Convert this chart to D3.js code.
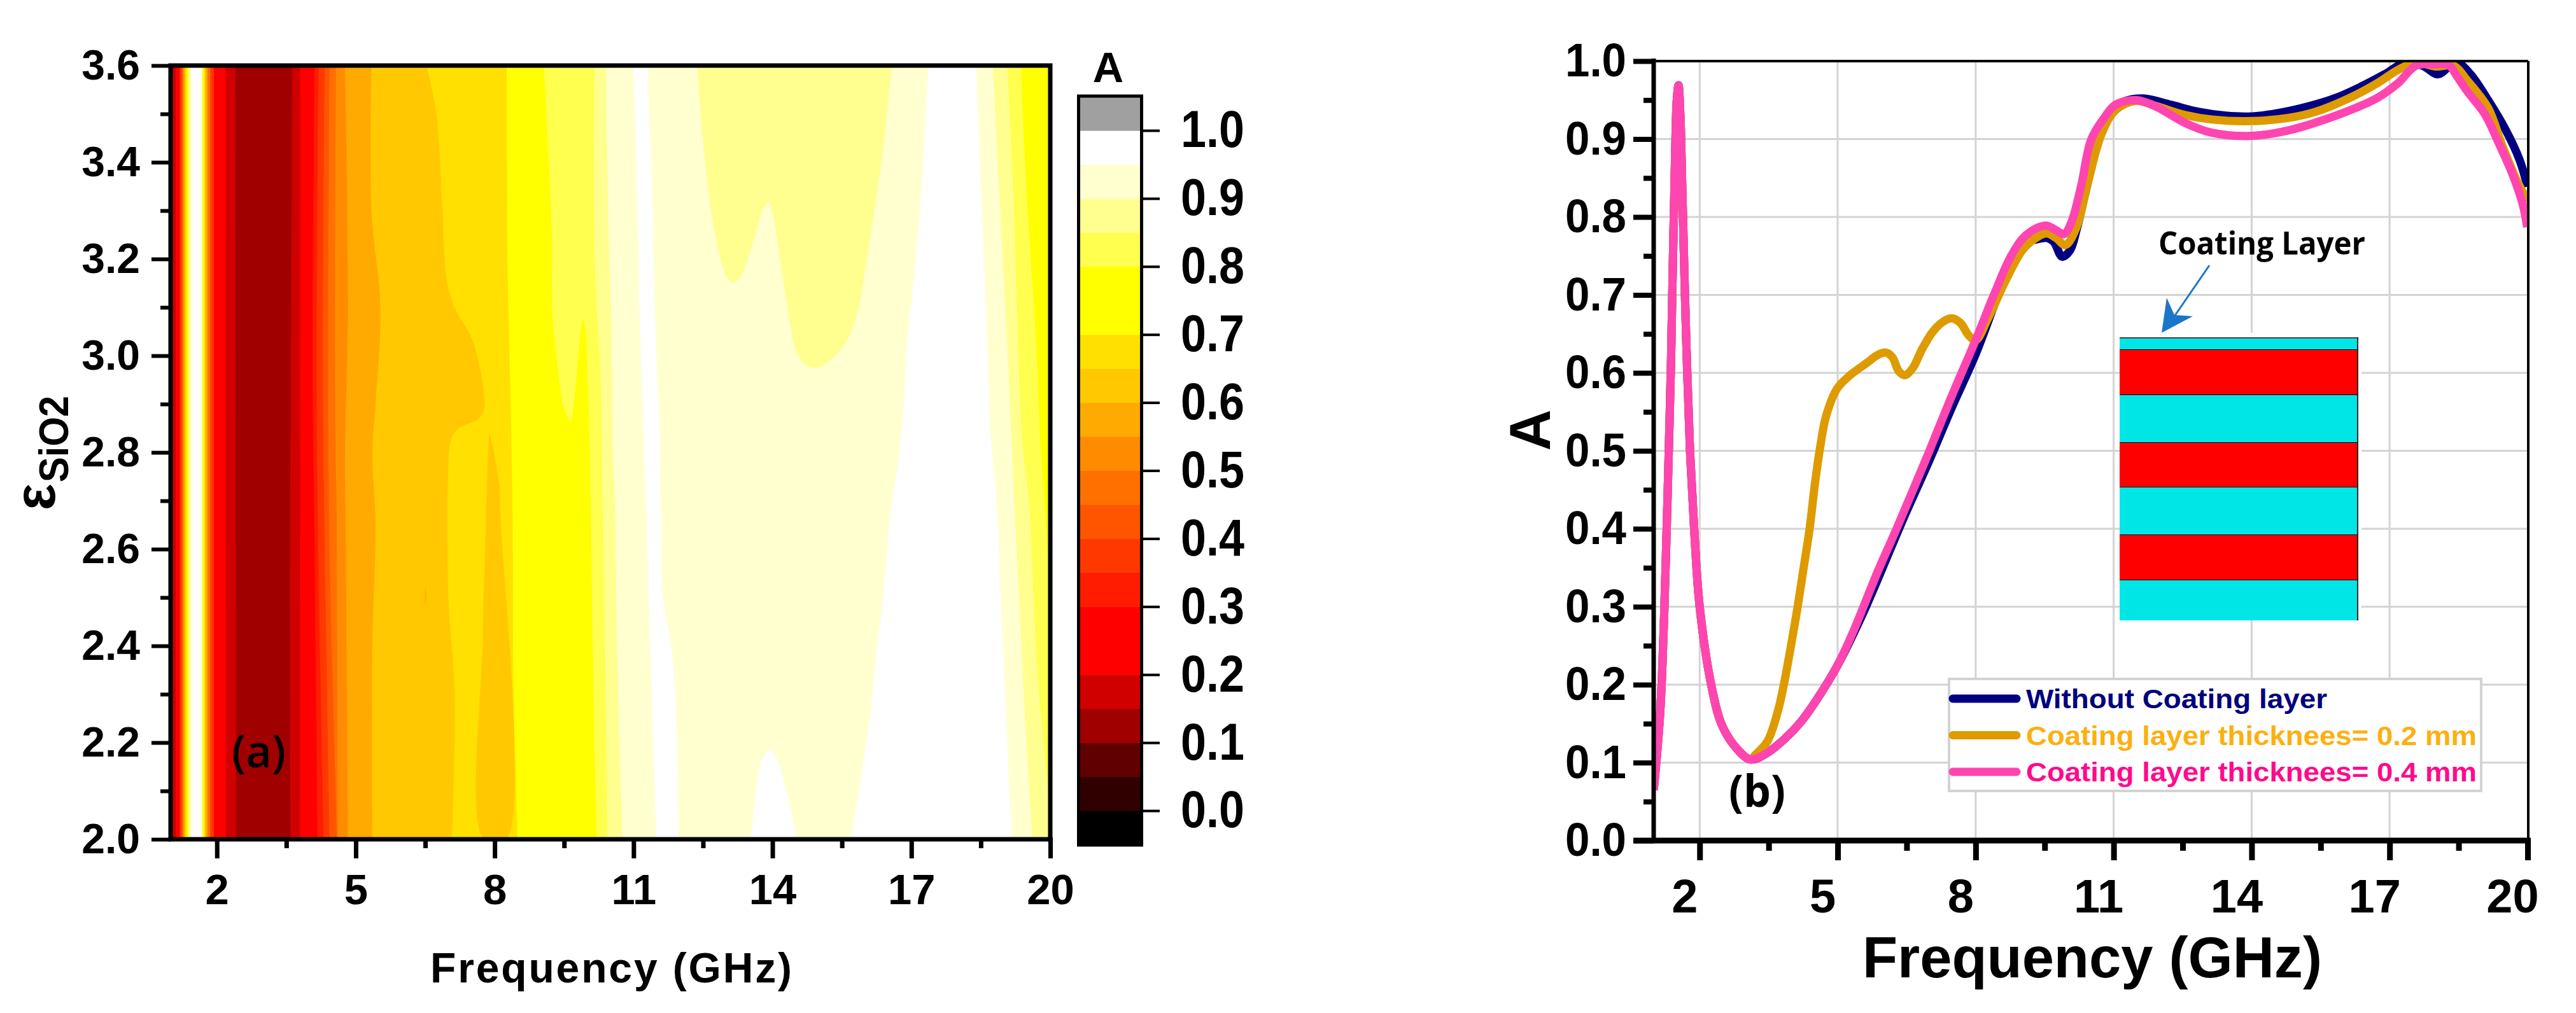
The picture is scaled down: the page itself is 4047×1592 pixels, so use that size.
<!DOCTYPE html>
<html><head><meta charset="utf-8">
<script src="https://cdn.jsdelivr.net/npm/d3@7"></script>
<style>html,body{margin:0;padding:0;background:#fff;overflow:hidden}svg{display:block}text{font-family:"Liberation Sans",Arial,sans-serif;font-weight:700;fill:#000}</style>
</head><body><svg id="c" width="4047" height="1592"></svg>
<script>
// ---------- Panel (a) data: contour boundaries [freq, eps]
const colourLevels = ["#000000","#300000","#600000","#A00000","#D00000","#FF0000","#FF0000","#FF1C00","#FF3800","#FF5500","#FF7000","#FF8C00","#FFAA00","#FFC800","#FFE000","#FFFF00","#FFFF00","#FFFF50","#FFFF90","#FFFFD0","#FFFFFF","#A0A0A0"];
const colourTicks = [0,0.1,0.2,0.3,0.4,0.5,0.6,0.7,0.8,0.9,1.0];
const freqTicksMajor = [2,5,8,11,14,17,20];
const freqTicksMinor = [3.5,6.5,9.5,12.5,15.5,18.5];
const epsTicksMajor = [2.0,2.2,2.4,2.6,2.8,3.0,3.2,3.4,3.6];
const epsTicksMinor = [2.1,2.3,2.5,2.7,2.9,3.1,3.3,3.5];
const contourEdges = [
 ["#FF0000",[[1.112,3.6],[1.112,2.0]]],
 ["#FF3800",[[1.20,3.6],[1.20,2.0]]],
 ["#FF7000",[[1.244,3.6],[1.244,2.0]]],
 ["#FFAA00",[[1.279,3.6],[1.279,2.0]]],
 ["#FFE000",[[1.314,3.6],[1.314,2.0]]],
 ["#FFFF00",[[1.349,3.6],[1.349,2.0]]],
 ["#FFFF90",[[1.384,3.6],[1.384,2.0]]],
 ["#FFFFFF",[[1.437,3.6],[1.437,2.0]]],
 ["#FFFF90",[[1.665,3.6],[1.665,2.0]]],
 ["#FFFF00",[[1.691,3.6],[1.691,2.0]]],
 ["#FFE000",[[1.726,3.6],[1.726,2.0]]],
 ["#FFAA00",[[1.752,3.6],[1.752,2.0]]],
 ["#FF7000",[[1.796,3.6],[1.796,2.0]]],
 ["#FF3800",[[1.858,3.6],[1.858,2.0]]],
 ["#FF0000",[[1.936,3.6],[1.936,2.0]]],
 ["#D00000",[[2.19,3.6],[2.19,2.0]]],
 ["#A00000",[[2.40,3.6],[2.41,2.0]]],
 ["#D00000",[[3.63,3.6],[3.60,3.0],[3.58,2.6],[3.59,2.0]]],
 ["#FF0000",[[3.80,3.6],[3.79,2.0]]],
 ["#FF1C00",[[4.11,3.6],[4.067,3.0],[4.11,2.6],[4.172,2.0]]],
 ["#FF3800",[[4.198,3.6],[4.155,3.0],[4.19,2.6],[4.304,2.0]]],
 ["#FF5500",[[4.33,3.6],[4.286,3.0],[4.33,2.6],[4.435,2.0]]],
 ["#FF7000",[[4.435,3.6],[4.40,3.0],[4.435,2.6],[4.593,2.0]]],
 ["#FF8C00",[[4.575,3.6],[4.549,3.0],[4.593,2.6],[4.61,2.0]]],
 ["#FFAA00",[[4.768,3.6],[4.83,3.1],[4.768,2.8],[4.786,2.6],[4.83,2.0]]],
 ["#FFC800",[[5.338,3.6],[5.338,3.3],[5.531,3.1],[5.426,2.9],[5.356,2.8],[5.426,2.65],[5.356,2.4],[5.356,2.0]]],
 ["#FFE000",[[6.522,3.6],[6.741,3.5],[6.872,3.3],[6.96,3.16],[7.135,3.10],[7.53,3.03],[7.749,2.935],[7.767,2.89],[7.661,2.87],[7.223,2.85],[7.065,2.83],[6.986,2.73],[6.978,2.683],[7.004,2.49],[7.135,2.30],[7.074,2.0]]],
];
const contourIslandsLow = [
 ["#FFB400",[[6.504,2.525],[6.53,2.504],[6.504,2.485],[6.48,2.504]]],
 ["#FFC800",[[7.88,2.84],[7.82,2.70],[7.82,2.68],[7.749,2.43],[7.767,2.0],[8.249,2.0],[8.118,2.68],[8.10,2.73],[7.968,2.81]]],
];
const contourEdgesHigh = [
 ["#FFFF00",[[8.258,3.6],[8.275,3.2],[8.345,2.9],[8.389,2.66],[8.407,2.3],[8.494,2.0]]],
 ["#FFFF50",[[9.064,3.6],[9.24,3.24],[9.24,3.1],[9.345,2.99],[9.503,2.89],[9.634,2.866],[9.766,2.955],[9.854,3.05],[9.906,3.076],[9.959,3.05],[10.029,2.89],[10.073,2.7],[10.134,2.3],[10.204,2.0]]],
 ["#FFFF90",[[10.16,3.6],[10.16,3.2],[10.29,2.95],[10.336,2.68],[10.44,2.0]]],
 ["#FFFFD0",[[10.405,3.6],[10.45,3.3],[10.51,3.1],[10.555,2.8],[10.6,2.68],[10.643,2.4],[10.757,2.0]]],
 ["#FFFFFF",[[10.993,3.6],[11.077,3.34],[11.133,3.08],[11.217,2.83],[11.27,2.68],[11.37,2.365],[11.49,2.0]]],
 ["#FFFFD0",[[11.30,3.6],[11.40,3.34],[11.463,3.08],[11.57,2.83],[11.59,2.68],[11.646,2.488],[11.80,2.411],[11.89,2.32],[11.935,2.23],[11.97,2.0]]],
];
const lobeIsland = ["#FFFF90",[[12.375,3.6],[12.48,3.465],[12.62,3.337],[12.76,3.25],[12.935,3.18],[13.076,3.155],[13.18,3.152],[13.32,3.165],[13.50,3.21],[13.64,3.254],[13.78,3.30],[13.92,3.318],[13.99,3.30],[14.13,3.22],[14.27,3.13],[14.41,3.05],[14.51,3.01],[14.72,2.98],[14.97,2.975],[15.28,2.993],[15.60,3.03],[15.85,3.095],[15.99,3.17],[16.2,3.30],[16.37,3.414],[16.48,3.51],[16.58,3.6]]];
const contourEdgesRight = [
 ["#FFFFFF",[[17.37,3.6],[17.21,3.337],[17.04,3.146],[16.9,3.02],[16.83,2.89],[16.69,2.763],[16.557,2.683],[16.47,2.59],[16.34,2.456],[16.25,2.39],[16.13,2.275],[16.04,2.207],[15.91,2.126],[15.79,2.058],[15.68,2.0]]],
];
const peakIsland = ["#FFFFFF",[[13.53,2.0],[13.61,2.07],[13.70,2.139],[13.795,2.171],[13.95,2.184],[14.07,2.171],[14.225,2.13],[14.38,2.067],[14.54,2.0]]];
const contourEdgesEnd = [
 ["#FFFFD0",[[18.40,3.6],[18.51,3.337],[18.62,3.08],[18.72,2.83],[18.85,2.683],[18.95,2.456],[19.04,2.275],[19.105,2.126],[19.18,2.0]]],
 ["#FFFF90",[[18.76,3.6],[18.9,3.337],[19.07,3.02],[19.23,2.683],[19.35,2.456],[19.44,2.275],[19.615,2.0]]],
 ["#FFFF50",[[19.07,3.6],[19.2,3.337],[19.28,3.1],[19.39,2.83],[19.55,2.683],[19.66,2.456],[19.78,2.275],[20,2.06]]],
 ["#FFFF00",[[19.37,3.6],[19.49,3.337],[19.7,3.02],[19.8,2.8],[19.885,2.683],[20,2.5]]],
];
// ---------- Panel (b) data: [frequency GHz, A]
const sharedStart = [[1.0,0.065],[1.018,0.075],[1.143,0.166],[1.212,0.262],[1.263,0.359],[1.323,0.488],[1.378,0.618],[1.419,0.747],[1.466,0.876],[1.50,0.947],[1.54,0.969],[1.58,0.930],[1.62,0.840],[1.68,0.700],[1.73,0.600],[1.79,0.500],[1.88,0.400],[2.0,0.300],[2.25,0.200],[2.47,0.150],[2.75,0.122],[3.10,0.104]];
const lowerBranch = [[3.426,0.111],[3.84,0.130],[4.21,0.153],[4.58,0.184],[4.99,0.224]];
const withoutCoating = sharedStart.concat(lowerBranch,[[5.5,0.285],[5.87,0.335],[6.42,0.412],[6.98,0.486],[7.485,0.556],[8.0,0.624],[8.41,0.688],[8.78,0.745],[9.10,0.768],[9.30,0.771],[9.56,0.773],[9.70,0.768],[9.88,0.749],[10.05,0.757],[10.2,0.785],[10.4,0.835],[10.74,0.915],[11.04,0.941],[11.27,0.949],[11.64,0.952],[12.24,0.944],[12.84,0.935],[13.44,0.930],[14.0,0.929],[14.64,0.934],[15.24,0.942],[15.84,0.953],[16.37,0.967],[16.89,0.983],[17.34,0.998],[17.72,0.994],[18.05,0.983],[18.31,0.994],[18.47,0.998],[18.76,0.983],[19.14,0.950],[19.52,0.912],[19.82,0.874],[20.0,0.839]]);
const coating02 = sharedStart.concat([[3.195,0.109],[3.47,0.127],[3.70,0.166],[3.83,0.200],[4.0,0.255],[4.13,0.300],[4.26,0.350],[4.39,0.400],[4.50,0.455],[4.62,0.505],[4.75,0.545],[4.99,0.580],[5.27,0.597],[5.64,0.613],[5.87,0.623],[6.05,0.626],[6.19,0.620],[6.33,0.602],[6.46,0.597],[6.63,0.606],[6.84,0.631],[7.07,0.653],[7.30,0.666],[7.485,0.670],[7.67,0.664],[7.85,0.648],[8.0,0.642],[8.27,0.670],[8.64,0.717],[9.01,0.757],[9.28,0.772],[9.54,0.779],[9.75,0.773],[9.95,0.764],[10.18,0.785],[10.44,0.844],[10.74,0.907],[11.04,0.937],[11.49,0.949],[11.94,0.942],[12.54,0.931],[13.14,0.925],[14.0,0.923],[14.79,0.927],[15.39,0.935],[16.14,0.953],[16.74,0.972],[17.19,0.989],[17.57,0.998],[18.01,0.993],[18.39,0.994],[18.69,0.975],[19.14,0.940],[19.44,0.893],[19.74,0.850],[20.0,0.820]]);
const coating04 = sharedStart.concat(lowerBranch,[[5.317,0.265],[5.87,0.345],[6.28,0.400],[6.98,0.498],[7.485,0.571],[8.0,0.642],[8.41,0.702],[8.78,0.751],[9.10,0.777],[9.52,0.789],[9.75,0.783],[9.92,0.778],[10.08,0.793],[10.29,0.839],[10.51,0.899],[10.78,0.926],[11.04,0.944],[11.49,0.950],[11.94,0.941],[12.54,0.921],[13.14,0.908],[14.0,0.904],[14.79,0.911],[15.39,0.921],[16.14,0.937],[16.74,0.953],[17.19,0.972],[17.57,0.994],[18.01,0.996],[18.28,0.995],[18.47,0.980],[18.69,0.961],[19.07,0.932],[19.37,0.895],[19.67,0.855],[19.89,0.817],[19.99,0.787]]);
const seriesNames = ["Without Coating layer","Coating layer thicknees= 0.2 mm","Coating layer thicknees= 0.4 mm"];
const lineColours = ["#000080","#DE9B00","#FF45B0"];
const textColours = ["#000080","#FCB010","#FF0A8C"];
const absTicksMajor = [0,0.1,0.2,0.3,0.4,0.5,0.6,0.7,0.8,0.9,1.0];
const absTicksMinor = [0.05,0.15,0.25,0.35,0.45,0.55,0.65,0.75,0.85,0.95];
const gridFreq = [2,5,8,11,14,17];
const gridAbs = [0.1,0.2,0.3,0.4,0.5,0.6,0.7,0.8,0.9];
const insetLayers = [["#00E6E6",19],["#FF0000",71],["#00E6E6",75],["#FF0000",70],["#00E6E6",75],["#FF0000",71],["#00E6E6",63]];

const svg = d3.select("#c");
svg.append("rect").attr("width",4047).attr("height",1592).attr("fill","#fff");
const fit=(sel,w)=>sel.attr("textLength",w).attr("lengthAdjust","spacingAndGlyphs");
const defs=svg.append("defs");

// ---------- Panel (a)
const xA=d3.scaleLinear().domain([1,20]).range([268,1650]);
const yA=d3.scaleLinear().domain([2,3.6]).range([1319,103]);
defs.append("clipPath").attr("id","clipA").append("rect").attr("x",268).attr("y",103).attr("width",1382).attr("height",1216);
const gA=svg.append("g").attr("clip-path","url(#clipA)");
gA.append("rect").attr("x",xA(1)).attr("y",yA(3.6)).attr("width",xA(20)-xA(1)).attr("height",yA(2)-yA(3.6)).attr("fill","#C80000");
const smooth=d3.line().x(d=>xA(d[0])).y(d=>yA(d[1])).curve(d3.curveCatmullRom.alpha(0.5));
function edge([col,pts]){
  const a=pts[0],b=pts[pts.length-1];
  gA.append("path").attr("fill",col).attr("d",smooth(pts)+"L"+xA(21)+","+yA(b[1])+"L"+xA(21)+","+yA(a[1])+"Z");
}
function island([col,pts]){ gA.append("path").attr("fill",col).attr("d",smooth(pts)+"Z"); }
contourEdges.forEach(edge);
contourIslandsLow.forEach(island);
contourEdgesHigh.forEach(edge);
island(lobeIsland);
contourEdgesRight.forEach(edge);
island(peakIsland);
contourEdgesEnd.forEach(edge);

function tickStyle(g,w){ g.select(".domain").remove(); g.selectAll(".tick line").attr("stroke","#000").attr("stroke-width",w); }
function axis(gen,tr,w,fs,extra){
  const g=svg.append("g").attr("transform",tr).call(gen);
  tickStyle(g,w);
  g.selectAll("text").attr("font-size",fs).attr("font-family",null).attr("fill","#000");
  if(extra) extra(g);
  return g;
}
const fmt1=d3.format(".1f");
const frame=(x,y,w,h,c="#000",fill="none",sw=7)=>svg.append("rect").attr("x",x).attr("y",y).attr("width",w).attr("height",h).attr("fill",fill).attr("stroke",c).attr("stroke-width",sw);
axis(d3.axisBottom(xA).tickValues(freqTicksMinor).tickSize(17).tickSizeOuter(0).tickFormat(""),"translate(0,1316)",7,0);
axis(d3.axisBottom(xA).tickValues(freqTicksMajor).tickSize(33).tickSizeOuter(0).tickPadding(20),"translate(0,1316)",7,67,g=>{
  g.selectAll("text").attr("dy",null).attr("y",105);
});
axis(d3.axisLeft(yA).tickValues(epsTicksMinor).tickSize(16).tickFormat(""),"translate(268,0)",6,0);
axis(d3.axisLeft(yA).tickValues(epsTicksMajor).tickSize(30).tickPadding(18).tickFormat(fmt1),"translate(268,0)",6,66);
frame(268,103,1382,1216);
svg.append("text").attr("x",676).attr("y",1544).attr("font-size",66).attr("textLength",568).attr("lengthAdjust","spacing").text("Frequency (GHz)");
fit(svg.append("text").attr("transform","translate(86,802) rotate(-90)").attr("font-size",90).text("ε"),42);
fit(svg.append("text").attr("transform","translate(107,758) rotate(-90)").attr("font-size",64).text("SiO2"),136);
fit(svg.append("text").attr("x",364).attr("y",1206).attr("font-size",70).attr("style","font-family:'Open Sans';font-weight:600").text("(a)"),85);

// ---------- Colour bar
const yC=d3.scaleLinear().domain([0,1]).range([1274,205]);
const bandStart=d3.range(colourLevels.length).map(i=>-0.05+i*0.05);
svg.append("g").selectAll("rect").data(colourLevels).join("rect")
 .attr("x",1697).attr("width",94).attr("y",(d,i)=>yC(bandStart[i]+0.05)).attr("height",(d,i)=>yC(bandStart[i])-yC(bandStart[i]+0.05)+0.6).attr("fill",d=>d);
frame(1694.5,151,99,1177,"#000","none",5);
const cAxis=axis(d3.axisRight(yC).tickValues(colourTicks).tickSize(26).tickPadding(33).tickFormat(fmt1),"translate(1796,0)",4,81);
fit(cAxis.selectAll("text"),100);
svg.append("text").attr("x",1741).attr("y",129).attr("text-anchor","middle").attr("font-size",67).text("A");

// ---------- Panel (b)
const xB=d3.scaleLinear().domain([1,20]).range([2598,3971]);
const yB=d3.scaleLinear().domain([0,1]).range([1321,96]);
defs.append("clipPath").attr("id","clipB").append("rect").attr("x",2598).attr("y",96).attr("width",1373).attr("height",1225);
const gGrid=svg.append("g").attr("stroke","#D3D3D3").attr("stroke-width",3);
gGrid.selectAll(".v").data(gridFreq).join("line").attr("x1",d=>xB(d)).attr("x2",d=>xB(d)).attr("y1",yB(1)).attr("y2",yB(0));
gGrid.selectAll(".h").data(gridAbs).join("line").attr("y1",d=>yB(d)).attr("y2",d=>yB(d)).attr("x1",xB(1)).attr("x2",xB(20));
// inset schematic
svg.append("rect").attr("x",3330).attr("y",523).attr("width",380).attr("height",452).attr("fill","#fff");
const layerEnds=d3.cumsum(insetLayers.map(d=>d[1]));
const yI=d3.scaleLinear().domain([0,layerEnds[layerEnds.length-1]]).range([531,975]);
const gI=svg.append("g");
insetLayers.forEach((l,i)=>{
  const t=yI(i?layerEnds[i-1]:0), b=yI(layerEnds[i]);
  gI.append("rect").attr("x",3330).attr("y",t).attr("width",374).attr("height",b-t).attr("fill",l[0]);
  if(i<insetLayers.length-1) gI.append("line").attr("x1",3330).attr("x2",3704).attr("y1",b).attr("y2",b).attr("stroke","#000").attr("stroke-width",2);
});
gI.append("line").attr("x1",3330).attr("x2",3705).attr("y1",531).attr("y2",531).attr("stroke","#444").attr("stroke-width",2);
gI.append("line").attr("x1",3704).attr("x2",3704).attr("y1",530).attr("y2",975).attr("stroke","#222").attr("stroke-width",2);
// arrow
svg.append("line").attr("x1",3471).attr("y1",417).attr("x2",3414).attr("y2",500).attr("stroke","#1B75C9").attr("stroke-width",3);
svg.append("polygon").attr("points","3396,523 3404,468 3416,495 3445,497").attr("fill","#1B75C9");
fit(svg.append("text").attr("x",3391).attr("y",400).attr("font-size",50).attr("style","font-family:'Open Sans';font-weight:700").text("Coating Layer"),325);
// curves
const lineB=d3.line().x(d=>xB(d[0])).y(d=>yB(d[1])).curve(d3.curveCatmullRom.alpha(0.5));
svg.append("g").attr("clip-path","url(#clipB)").selectAll("path").data([withoutCoating,coating02,coating04]).join("path")
 .attr("d",lineB).attr("fill","none").attr("stroke",(d,i)=>lineColours[i]).attr("stroke-width",13).attr("stroke-linejoin","round");
// frame & axes
svg.append("line").attr("x1",2598).attr("x2",3972).attr("y1",96).attr("y2",96).attr("stroke","#000").attr("stroke-width",4);
svg.append("line").attr("x1",3972).attr("x2",3972).attr("y1",96).attr("y2",1321).attr("stroke","#000").attr("stroke-width",4);
svg.append("line").attr("x1",2566).attr("x2",3976).attr("y1",1321).attr("y2",1321).attr("stroke","#000").attr("stroke-width",9);
svg.append("line").attr("x1",2598).attr("x2",2598).attr("y1",92).attr("y2",1325).attr("stroke","#000").attr("stroke-width",7);
axis(d3.axisBottom(xB).tickValues(freqTicksMinor).tickSize(16).tickFormat(""),"translate(0,1321)",9,0);
axis(d3.axisBottom(xB).tickValues(freqTicksMajor).tickSize(31).tickSizeOuter(0),"translate(0,1321)",9,74,g=>{
  g.selectAll("text").attr("dy",null).attr("y",113).attr("dx",-24);
});
axis(d3.axisLeft(yB).tickValues(absTicksMinor).tickSize(16).tickFormat(""),"translate(2598,0)",8,0);
const yAxisB=axis(d3.axisLeft(yB).tickValues(absTicksMajor).tickSize(32).tickPadding(11).tickFormat(fmt1),"translate(2598,0)",8,74);
fit(yAxisB.selectAll("text"),96);
fit(svg.append("text").attr("x",2926).attr("y",1536).attr("font-size",90).text("Frequency (GHz)"),722);
svg.append("text").attr("transform","translate(2435,676) rotate(-90)").attr("text-anchor","middle").attr("font-size",90).text("A");
fit(svg.append("text").attr("x",2716).attr("y",1268).attr("font-size",70).attr("style","font-family:'Open Sans';font-weight:700").text("(b)"),89);
// legend
svg.append("rect").attr("x",3062).attr("y",1067).attr("width",836).attr("height",176).attr("fill","#fff").attr("stroke","#D3D3D3").attr("stroke-width",4);
const legendY=d3.scalePoint().domain(seriesNames).range([1098,1213]);
const legendWidths=[473,708,708];
const lg=svg.append("g").selectAll("g").data(seriesNames).join("g");
lg.append("line").attr("x1",3068).attr("x2",3168).attr("y1",d=>legendY(d)).attr("y2",d=>legendY(d)).attr("stroke",(d,i)=>lineColours[i]).attr("stroke-width",13).attr("stroke-linecap","round");
lg.append("text").attr("x",3183).attr("y",d=>legendY(d)+15).attr("font-size",43).attr("style",(d,i)=>"fill:"+textColours[i]).attr("textLength",(d,i)=>legendWidths[i]).attr("lengthAdjust","spacingAndGlyphs").text(d=>d);
</script></body></html>
